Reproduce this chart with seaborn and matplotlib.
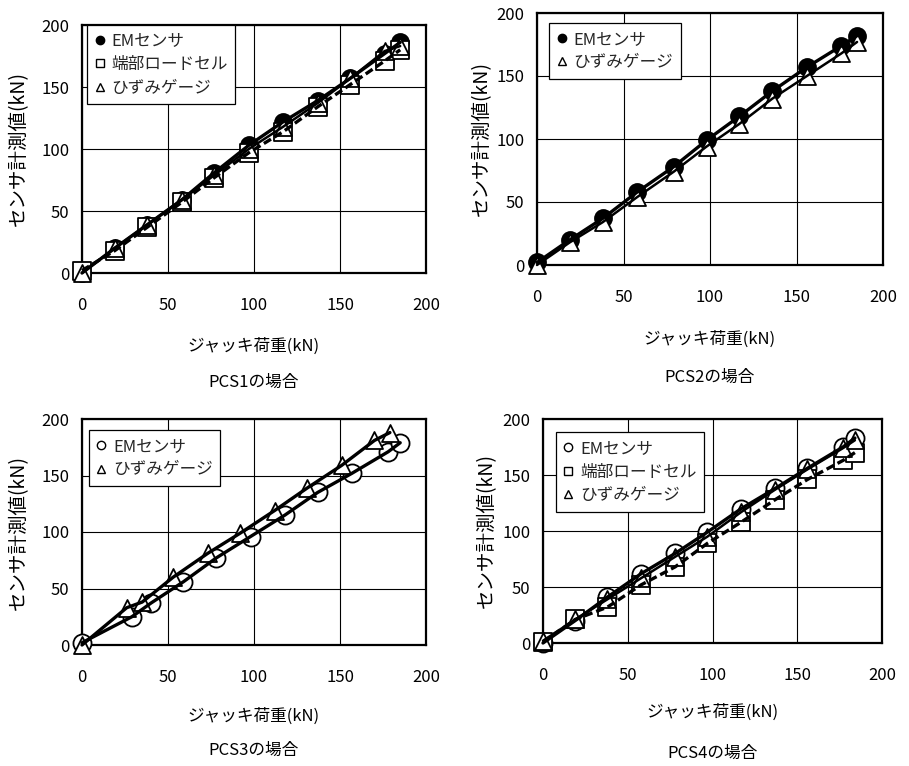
import numpy as np
import pandas as pd
import matplotlib
matplotlib.use("Agg")
import matplotlib.pyplot as plt
from matplotlib.lines import Line2D
import seaborn as sns

# ---------------- data ----------------
load1 = [0, 19, 38, 58, 77, 97, 117, 137, 156, 176, 185]
em1 = [0, 20, 39, 59, 81, 103, 122, 139, 157, 177, 186]
lc1 = [2, 18, 37, 57, 77, 97, 114, 134, 152, 171, 180]
sg1 = [0, 20, 39, 59, 79, 100, 118, 137, 157, 179, 183]

load2 = [0, 19, 38, 58, 79, 98, 117, 136, 156, 176, 185]
em2 = [2, 20, 37, 58, 78, 99, 118, 138, 157, 174, 182]
sg2 = [0, 18, 34, 54, 74, 94, 112, 132, 150, 168, 177]

load3_em = [0, 29, 40, 59, 78, 98, 118, 137, 157, 178, 185]
em3 = [2, 25, 37, 56, 77, 96, 115, 135, 152, 171, 179]
load3_sg = [0, 26, 35, 53, 73, 92, 112, 131, 151, 170, 179]
sg3 = [0, 33, 38, 60, 81, 99, 119, 139, 159, 181, 188]

load4 = [0, 19, 38, 58, 78, 97, 117, 137, 156, 177, 184]
em4 = [0, 20, 41, 62, 80, 99, 120, 138, 156, 175, 183]
lc4 = [1, 21, 32, 52, 68, 89, 108, 128, 146, 163, 170]
sg4 = [2, 21, 39, 58, 77, 95, 117, 137, 155, 174, 181]

ticks = [0, 50, 100, 150, 200]
lbl_em = "EMセンサ"
lbl_lc = "端部ロードセル"
lbl_sg = "ひずみゲージ"
xlabel = "ジャッキ荷重(kN)"
ylabel = "センサ計測値(kN)"
titles = ["PCS1の場合", "PCS2の場合", "PCS3の場合", "PCS4の場合"]

# ---------------- style ----------------
sns.set_theme(style="white")
plt.rcParams["font.family"] = ["Noto Sans CJK JP", "DejaVu Sans"]
plt.rcParams["axes.unicode_minus"] = False

W, H = 909, 766
fig = plt.figure(figsize=(W / 100, H / 100), dpi=100)


def px_axes(l, t, r, b):
    return fig.add_axes([l / W, 1 - b / H, (r - l) / W, (b - t) / H])


MK = {
    "em_fill": dict(marker="o", s=150, facecolor="black", edgecolor="black"),
    "em_open": dict(marker="o", s=170, facecolor="white", edgecolor="black"),
    "lc": dict(marker="s", s=165, facecolor="white", edgecolor="black"),
    "sg": dict(marker="^", s=150, facecolor="white", edgecolor="black"),
}
LS = {
    "em": dict(lw=2.4, linestyle="-"),
    "lc": dict(lw=2.4, linestyle=(0, (2.5, 1.2))),
    "sg": dict(lw=1.8, linestyle="-"),
}


def series(ax, x, y, mk, ls, z):
    df = pd.DataFrame({"x": x, "y": y})
    sns.scatterplot(data=df, x="x", y="y", ax=ax, linewidth=1.3,
                    zorder=z, legend=False, **MK[mk])
    sns.lineplot(data=df, x="x", y="y", ax=ax, color="black",
                 sort=False, estimator=None, zorder=10 + z, legend=False, **LS[ls])


def style_ax(ax, legend_items, leg_xy, ylab_x, xlab_y, title_y, title):
    ax.set_xlim(0, 200)
    ax.set_ylim(0, 200)
    ax.set_xticks(ticks)
    ax.set_yticks(ticks)
    ax.set_xticklabels([str(t) for t in ticks])
    ax.set_yticklabels([str(t) for t in ticks])
    ax.tick_params(axis="x", length=0, pad=17, labelsize=12, colors="black")
    ax.tick_params(axis="y", length=0, pad=9, labelsize=12, colors="black")
    ax.grid(True, color="black", lw=0.8)
    ax.set_axisbelow(True)
    for sp in ax.spines.values():
        sp.set_color("black")
        sp.set_linewidth(1.6)
        sp.set_visible(True)
    ax.set_xlabel(xlabel, fontsize=12, color="black")
    ax.xaxis.set_label_coords(0.5, xlab_y)
    ax.set_ylabel(ylabel, fontsize=14, color="black")
    ax.yaxis.set_label_coords(ylab_x, 0.5)
    ax.text(0.5, title_y, title, transform=ax.transAxes, ha="center",
            va="center", fontsize=12, color="black")
    handles = []
    for mk, lab in legend_items:
        d = MK[mk]
        handles.append(Line2D([], [], ls="", marker=d["marker"], markersize=6,
                              markerfacecolor=d["facecolor"],
                              markeredgecolor="black", markeredgewidth=1.0,
                              label=lab))
    leg = ax.legend(handles=handles, loc="upper left", bbox_to_anchor=leg_xy,
                    borderaxespad=0, frameon=True, fancybox=False,
                    framealpha=1, edgecolor="black", fontsize=12,
                    handlelength=0.6, handletextpad=0.4, borderpad=0.45,
                    labelspacing=0.4)
    leg.get_frame().set_linewidth(0.9)
    leg.set_zorder(30)


# PCS1
ax1 = px_axes(82, 25, 426, 273)
series(ax1, load1, em1, "em_fill", "em", 3)
series(ax1, load1, lc1, "lc", "lc", 4)
series(ax1, load1, sg1, "sg", "sg", 5)
style_ax(ax1, [("em_fill", lbl_em), ("lc", lbl_lc), ("sg", lbl_sg)],
         (0.015, 1.0), -0.155, -0.262, -0.44, titles[0])

# PCS2
ax2 = px_axes(537, 13, 883, 265)
series(ax2, load2, em2, "em_fill", "em", 3)
series(ax2, load2, sg2, "sg", "sg", 5)
style_ax(ax2, [("em_fill", lbl_em), ("sg", lbl_sg)],
         (0.035, 0.96), -0.13, -0.262, -0.444, titles[1])

# PCS3
ax3 = px_axes(82, 419, 426, 645)
series(ax3, load3_em, em3, "em_open", "em", 3)
series(ax3, load3_sg, sg3, "sg", "em", 5)
style_ax(ax3, [("em_open", lbl_em), ("sg", lbl_sg)],
         (0.02, 0.95), -0.155, -0.279, -0.465, titles[2])

# PCS4
ax4 = px_axes(543, 419, 882, 643)
series(ax4, load4, em4, "em_open", "em", 3)
series(ax4, load4, lc4, "lc", "lc", 4)
series(ax4, load4, sg4, "sg", "sg", 5)
style_ax(ax4, [("em_open", lbl_em), ("lc", lbl_lc), ("sg", lbl_sg)],
         (0.038, 0.94), -0.135, -0.272, -0.491, titles[3])

for ax in (ax1, ax2, ax3, ax4):
    for c in ax.collections + ax.lines:
        c.set_clip_on(False)

fig.savefig("out.png", dpi=100, facecolor="white")
